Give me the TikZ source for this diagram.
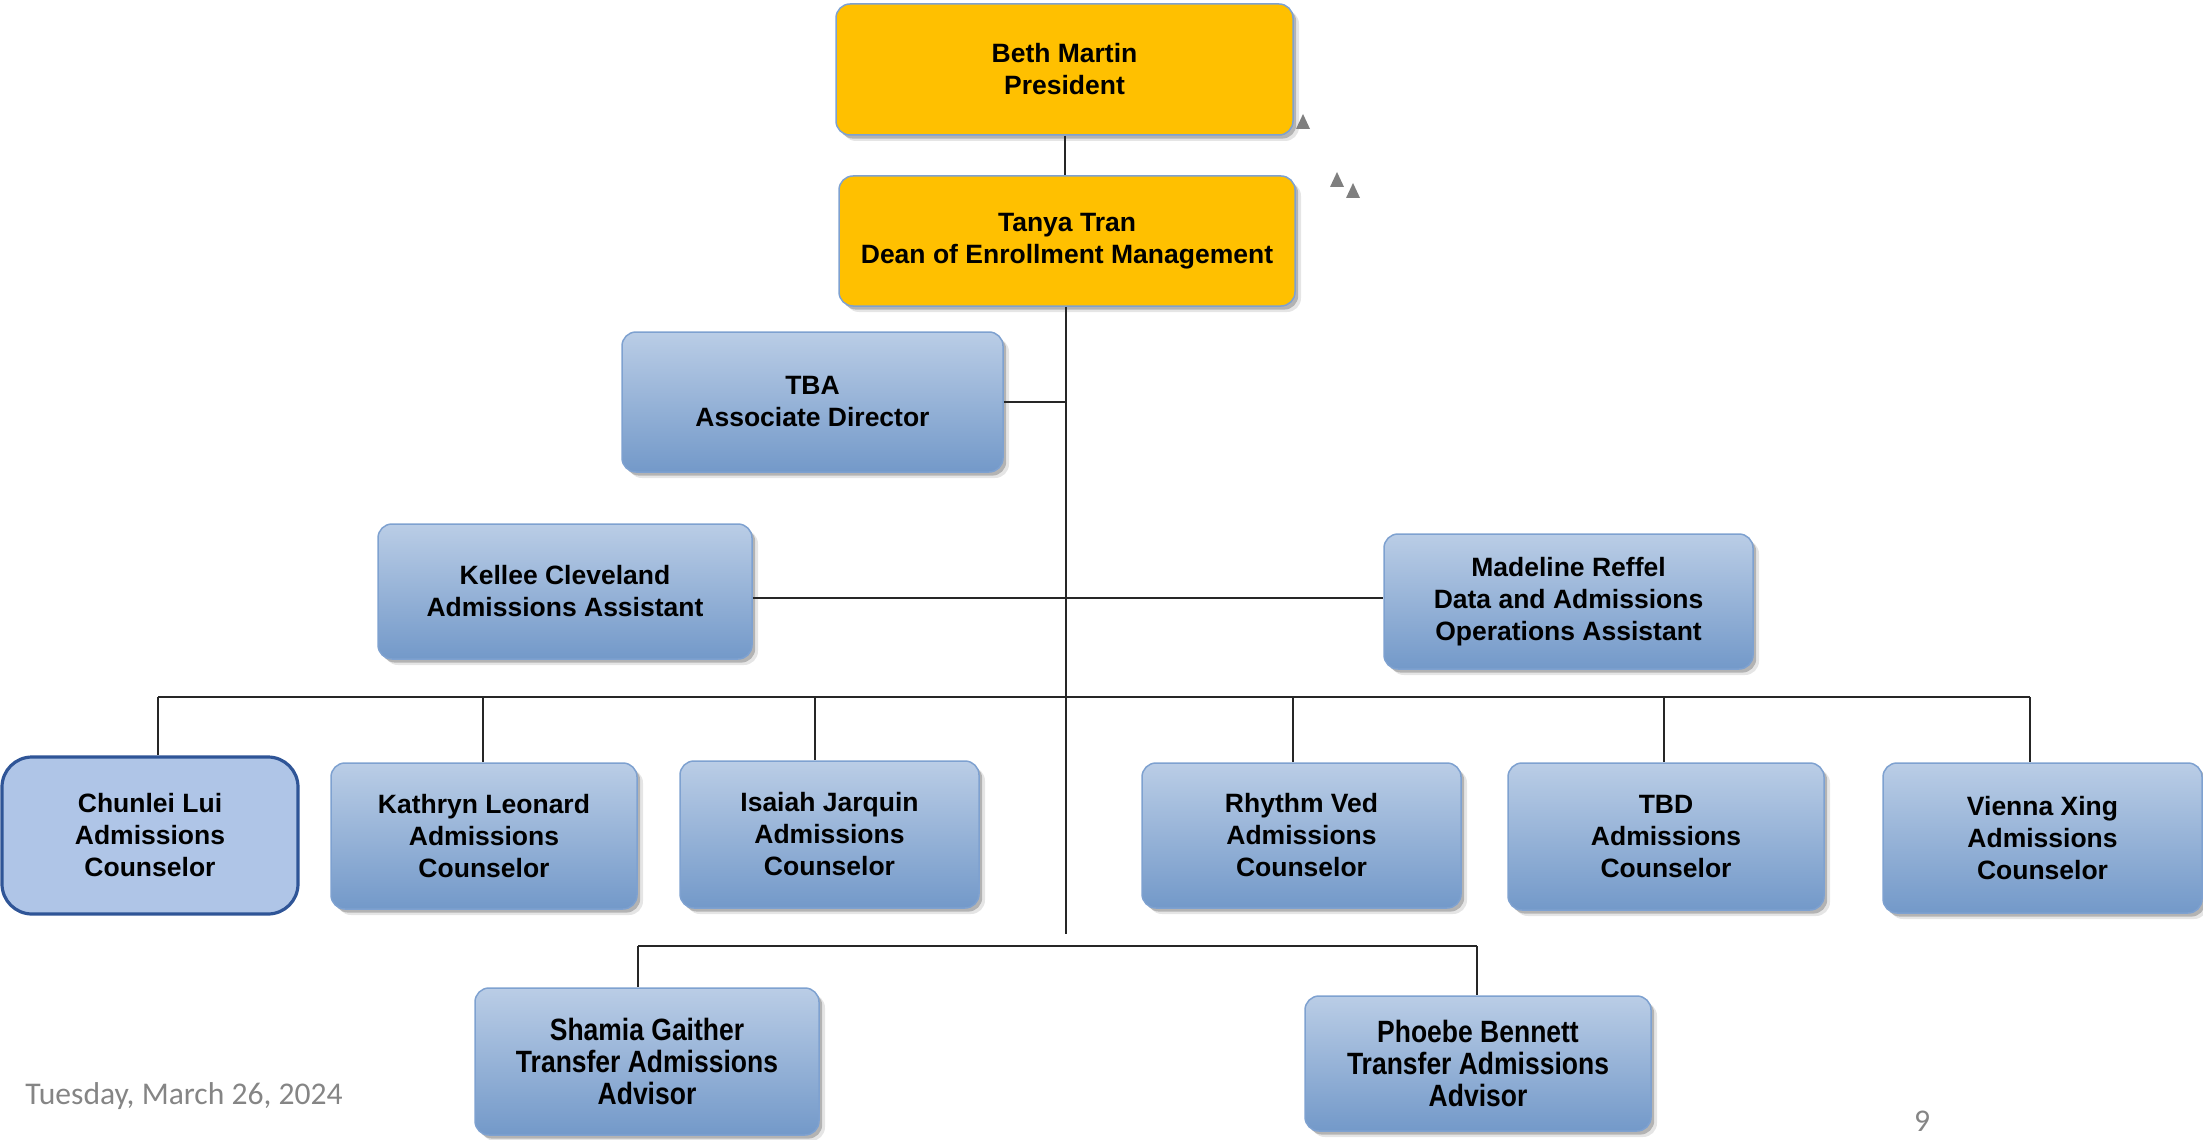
\documentclass[tikz,border=0pt]{standalone}
\usepackage{fontspec}
\setmainfont{Liberation Sans}
\newfontfamily\datefont{Carlito}
\newfontfamily\narrowfont{Liberation Sans}[FakeStretch=0.86]
\usetikzlibrary{shadows}
\definecolor{gold}{HTML}{FFC000}
\definecolor{boxline}{HTML}{7EA1D0}
\definecolor{bluetop}{HTML}{BACDE6}
\definecolor{bluebot}{HTML}{7399C9}
\definecolor{chosen}{HTML}{AFC5E7}
\definecolor{chosenline}{HTML}{2F5597}
\definecolor{greytext}{HTML}{858585}
\definecolor{trigrey}{HTML}{7F7F7F}
\tikzset{
  sz/.style 2 args={minimum width=#1*0.5pt, minimum height=#2*0.5pt},
  base/.style={rounded corners=7pt, draw=boxline, line width=0.75pt, align=center,
    inner sep=0pt, text=black, font=\bfseries\fontsize{13.25}{16}\selectfont,
    drop shadow={shadow xshift=3pt, shadow yshift=-3pt, fill=black, opacity=0.10},
    drop shadow={shadow xshift=1.6pt, shadow yshift=-1.8pt, fill=black, opacity=0.22}},
  goldbox/.style={base, fill=gold},
  bluebox/.style={base, top color=bluetop, bottom color=bluebot},
  narrowtext/.style={font=\narrowfont\bfseries\fontsize{15.4}{16}\selectfont},
  chosenbox/.style={rounded corners=15pt, draw=chosenline, line width=1.6pt, fill=chosen,
    align=center, inner sep=0pt, text=black, font=\bfseries\fontsize{13.25}{16}\selectfont},
  link/.style={draw=black!85, line width=1pt},
  tri/.style={fill=trigrey},
  datetext/.style={text=greytext, inner sep=0pt, font=\datefont\fontsize{15.8}{18}\selectfont}
}
\begin{document}
\begin{tikzpicture}[x=0.5pt, y=-0.5pt]
\useasboundingbox (0,0) rectangle (2203,1139);

% nodes
\node[goldbox, sz={457}{131}] (beth) at (1064.5,69.5) {Beth Martin\\President};
\node[goldbox, sz={456}{130}] (tanya) at (1067,241) {Tanya Tran\\Dean of Enrollment Management};
\node[bluebox, sz={381}{140}] (tba) at (812.5,402) {TBA\\Associate Director};
\node[bluebox, sz={374}{135}] (kellee) at (565,591.5) {Kellee Cleveland\\Admissions Assistant};
\node[bluebox, sz={369}{135}] (madeline) at (1568.5,601.5) {Madeline Reffel\\Data and Admissions\\Operations Assistant};
\node[chosenbox, sz={296}{157}] (chunlei) at (150,835.5) {Chunlei Lui\\Admissions\\Counselor};
\node[bluebox, sz={306}{146}] (kathryn) at (484,836) {Kathryn Leonard\\Admissions\\Counselor};
\node[bluebox, sz={299}{147}] (isaiah) at (829.5,834.5) {Isaiah Jarquin\\Admissions\\Counselor};
\node[bluebox, sz={319}{145}] (rhythm) at (1301.5,835.5) {Rhythm Ved\\Admissions\\Counselor};
\node[bluebox, sz={316}{147}] (tbd) at (1666,836.5) {TBD\\Admissions\\Counselor};
\node[bluebox, sz={319}{150}] (vienna) at (2042.5,838) {Vienna Xing\\Admissions\\Counselor};
\node[bluebox, narrowtext, sz={344}{147}] (shamia) at (647,1061.5) {Shamia Gaither\\Transfer Admissions\\Advisor};
\node[bluebox, narrowtext, sz={346}{135}] (phoebe) at (1478,1063.5) {Phoebe Bennett\\Transfer Admissions\\Advisor};

% connectors
\coordinate (trunkend) at (1066,934);
\draw[link] (beth.south) -- (beth.south |- tanya.north);
\draw[link] (tanya.south -| trunkend) -- (trunkend);
\draw[link] (tba.east) -- (tba.east -| trunkend);
\draw[link] (kellee.east |- 0,598) -- (madeline.west |- 0,598);

\coordinate (busL) at (158,697);
\coordinate (busR) at (2030,697);
\draw[link] (busL) -- (busR);
\foreach \n/\x in {chunlei/158, kathryn/483, isaiah/815, rhythm/1293, tbd/1664, vienna/2030}
  \draw[link] (\x,697) -- (\n.north -| \x,697);

\coordinate (lbL) at (638,946);
\coordinate (lbR) at (1477,946);
\draw[link] (lbL) -- (lbR);
\draw[link] (lbL) -- (lbL |- shamia.north);
\draw[link] (lbR) -- (lbR |- phoebe.north);

% small grey triangles
\fill[tri] (1296,129) -- (1310,129) -- (1303,114) -- cycle;
\fill[tri] (1330,187) -- (1344,187) -- (1337,172) -- cycle;
\fill[tri] (1346,198) -- (1360,198) -- (1353,183) -- cycle;

% footer
\node[datetext, anchor=base west] (date) at (25,1104) {Tuesday, March 26, 2024};
\node[datetext, anchor=base] (pagenum) at (1922,1131) {9};
\end{tikzpicture}
\end{document}
